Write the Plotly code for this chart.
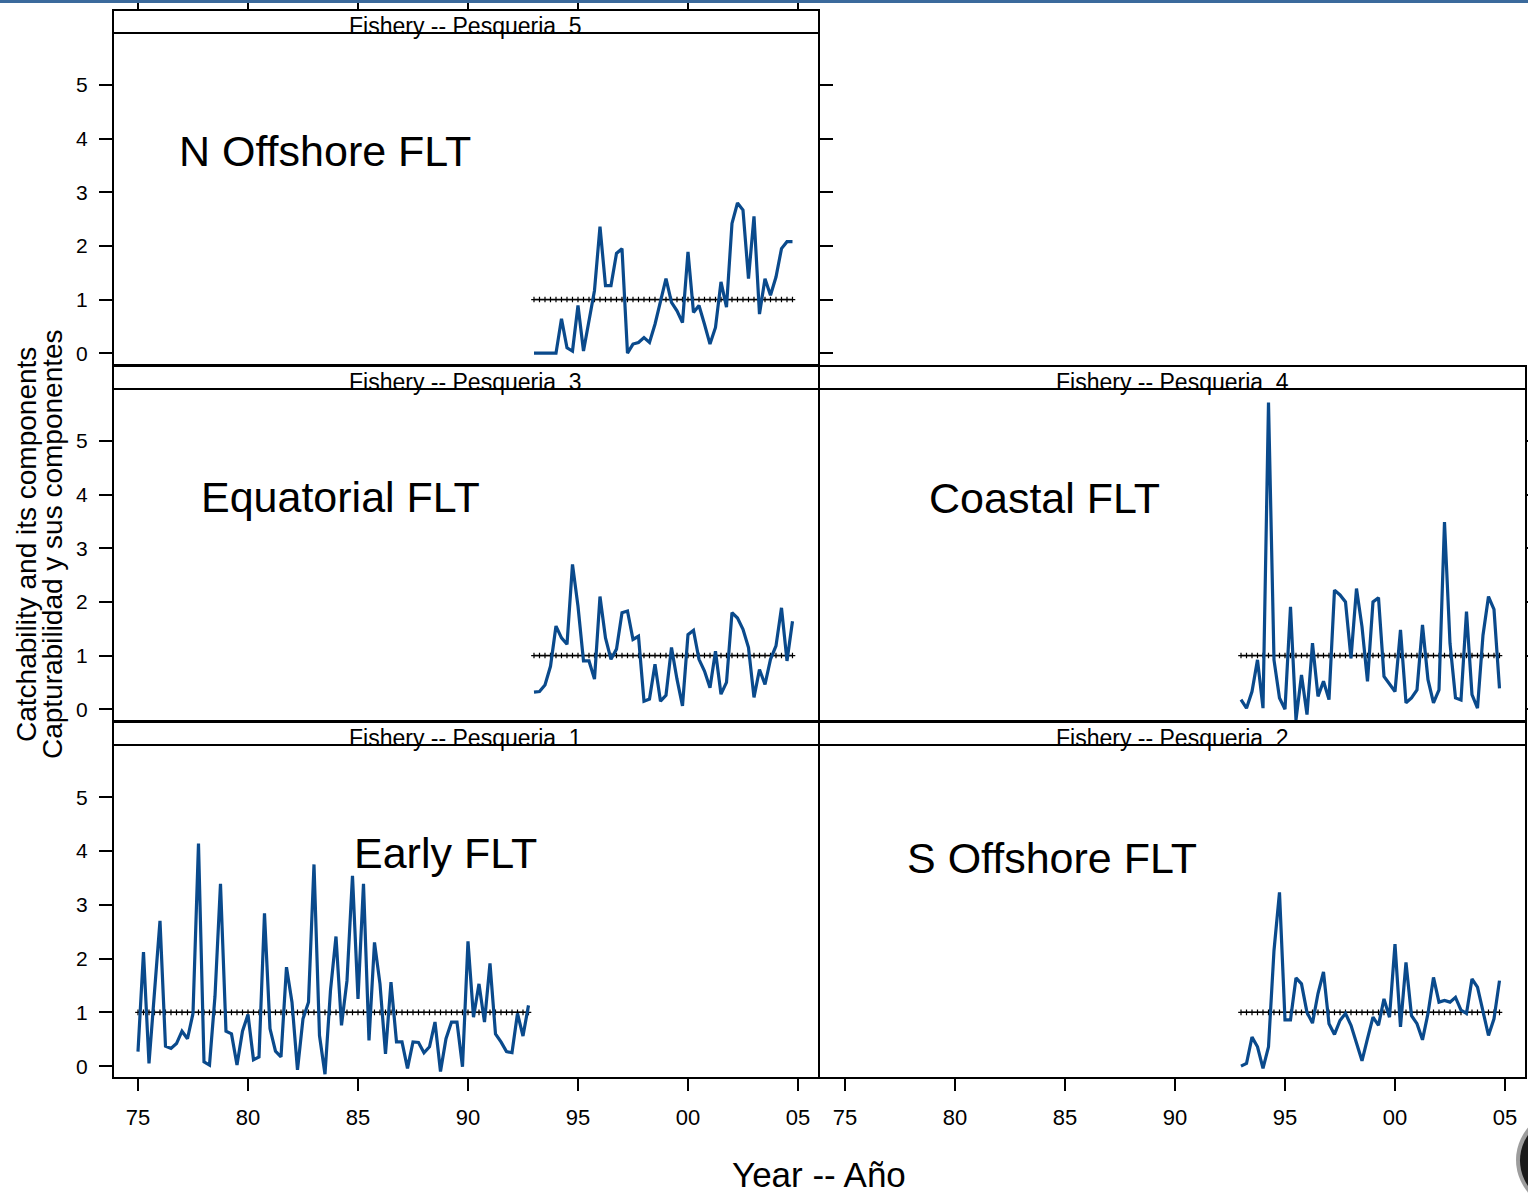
import numpy as np
import plotly.graph_objects as go

# ---- data: quarterly catchability deviates by fishery ----
fishery1 = [0.27, 2.12, 0.05, 1.38, 2.70, 0.37, 0.33, 0.42, 0.65, 0.51,
            0.98, 4.14, 0.08, 0.02, 1.30, 3.39, 0.65, 0.60, 0.02, 0.65,
            0.96, 0.12, 0.17, 2.84, 0.70, 0.28, 0.17, 1.84, 1.19, -0.07,
            0.88, 1.19, 3.75, 0.57, -0.15, 1.41, 2.41, 0.76, 1.59, 3.54,
            1.25, 3.39, 0.48, 2.30, 1.53, 0.23, 1.56, 0.45, 0.45, -0.04,
            0.45, 0.44, 0.25, 0.36, 0.82, -0.10, 0.51, 0.82, 0.82, -0.01,
            2.32, 0.91, 1.53, 0.82, 1.91, 0.60, 0.45, 0.27, 0.25, 0.98,
            0.56, 1.13]
fishery2 = [0.00, 0.05, 0.54, 0.36, -0.04, 0.36, 2.15, 3.23, 0.86, 0.86,
            1.64, 1.53, 1.00, 0.80, 1.35, 1.75, 0.79, 0.59, 0.85, 0.98,
            0.76, 0.42, 0.10, 0.51, 0.91, 0.76, 1.25, 0.91, 2.27, 0.73,
            1.93, 0.94, 0.79, 0.49, 0.98, 1.65, 1.19, 1.22, 1.19, 1.28,
            1.04, 0.98, 1.62, 1.47, 1.04, 0.57, 0.88, 1.59]
fishery3 = [0.32, 0.33, 0.45, 0.80, 1.55, 1.33, 1.21, 2.70, 1.92, 0.90,
            0.90, 0.56, 2.10, 1.33, 0.93, 1.12, 1.80, 1.83, 1.30, 1.36,
            0.15, 0.19, 0.84, 0.15, 0.26, 1.15, 0.56, 0.06, 1.39, 1.47,
            0.93, 0.71, 0.40, 1.08, 0.28, 0.50, 1.80, 1.70, 1.49, 1.15,
            0.22, 0.74, 0.46, 0.93, 1.18, 1.89, 0.90, 1.64]
fishery4 = [0.18, 0.02, 0.33, 0.92, 0.02, 5.72, 0.92, 0.21, 0.00, 1.91,
            -0.20, 0.64, -0.10, 1.23, 0.24, 0.52, 0.18, 2.22, 2.13, 2.00,
            0.95, 2.25, 1.54, 0.52, 2.00, 2.08, 0.61, 0.46, 0.33, 1.48,
            0.12, 0.21, 0.36, 1.57, 0.55, 0.12, 0.36, 3.49, 1.23, 0.21,
            0.17, 1.82, 0.27, 0.02, 1.38, 2.10, 1.86, 0.39]
fishery5 = [0.00, 0.00, 0.00, 0.00, 0.00, 0.64, 0.10, 0.04, 0.89, 0.04,
            0.61, 1.17, 2.36, 1.26, 1.26, 1.86, 1.95, 0.00, 0.17, 0.20,
            0.29, 0.20, 0.54, 0.98, 1.39, 0.95, 0.79, 0.57, 1.89, 0.76,
            0.89, 0.54, 0.17, 0.48, 1.33, 0.86, 2.42, 2.80, 2.67, 1.39,
            2.55, 0.73, 1.39, 1.08, 1.42, 1.95, 2.08, 2.08]

start_early, start_late = 1975.0, 1993.0
tick_years = [1975, 1980, 1985, 1990, 1995, 2000, 2005]
tick_text = ["75", "80", "85", "90", "95", "00", "05"]
y_ticks = [0, 1, 2, 3, 4, 5]

panel_labels = {5: "N Offshore FLT", 3: "Equatorial FLT", 4: "Coastal FLT",
                1: "Early FLT", 2: "S Offshore FLT"}

# ---- page geometry (pixels) ----
W, H = 1528, 1194
FONT = "Liberation Sans, Arial, sans-serif"
LINE_BLUE = "#0a4a8c"


def fx(px):
    return px / W


def fy(py):
    return 1 - py / H


COL = {"L": (113, 819), "R": (819, 1526)}
ROW = {"top": (33, 365), "mid": (389, 721), "bot": (745, 1078)}
STRIP = {"top": (10, 33), "mid": (366, 389), "bot": (722, 745)}
XR = {"L": [1973.864, 2005.955], "R": [1973.818, 2005.955]}
YR = [-0.22, 5.97]

# panel id -> (column, row, x axis name, y axis name, series, first year)
panels = {
    5: ("L", "top", "x", "y", fishery5, start_late),
    3: ("L", "mid", "x2", "y2", fishery3, start_late),
    4: ("R", "mid", "x3", "y3", fishery4, start_late),
    1: ("L", "bot", "x4", "y4", fishery1, start_early),
    2: ("R", "bot", "x5", "y5", fishery2, start_late),
}

fig = go.Figure()
layout = dict(
    width=W, height=H, margin=dict(l=0, r=0, t=0, b=0, autoexpand=False),
    paper_bgcolor="white", plot_bgcolor="white", showlegend=False,
    font=dict(family=FONT, color="black"),
)

shapes = []
annotations = []

for pid, (col, row, xa, ya, vals, t0) in panels.items():
    t = t0 + 0.25 * np.arange(len(vals))
    # reference line at 1 with small point markers
    fig.add_trace(go.Scatter(
        x=t, y=np.ones(len(vals)), xaxis=xa, yaxis=ya, mode="lines+markers",
        line=dict(color="black", width=1.5),
        marker=dict(symbol="cross-thin", size=4,
                    line=dict(color="black", width=1.2)),
        hoverinfo="skip"))
    fig.add_trace(go.Scatter(
        x=t, y=vals, xaxis=xa, yaxis=ya, mode="lines",
        line=dict(color=LINE_BLUE, width=3.2)))

    x0, x1 = COL[col]
    y0, y1 = ROW[row]
    s0, s1 = STRIP[row]
    xkey = "xaxis" + xa[1:]
    ykey = "yaxis" + ya[1:]

    xax = dict(domain=[fx(x0), fx(x1)], range=XR[col], anchor=ya,
               automargin=False, showgrid=False, zeroline=False,
               showline=False, tickvals=tick_years, ticktext=tick_text,
               ticks="", showticklabels=False)
    if row == "bot":
        xax.update(ticks="outside", ticklen=12, tickwidth=1.5,
                   tickcolor="black", showticklabels=True,
                   tickfont=dict(size=22, family=FONT, color="black"),
                   ticklabelstandoff=8)
    if row == "top":
        xax.update(anchor="free", position=fy(10), side="top",
                   ticks="outside", ticklen=10, tickwidth=1.5,
                   tickcolor="black")
    yax = dict(domain=[fy(y1), fy(y0)], range=YR, anchor=xa,
               automargin=False, showgrid=False, zeroline=False,
               showline=False, tickvals=y_ticks, ticks="",
               showticklabels=False)
    if col == "L":
        yax.update(ticks="outside", ticklen=13, tickwidth=1.5,
                   tickcolor="black", showticklabels=True,
                   tickfont=dict(size=21, family=FONT, color="black"),
                   ticklabelstandoff=7)
    elif row == "mid":
        yax.update(side="right", ticks="outside", ticklen=13, tickwidth=1.5,
                   tickcolor="black")
    layout[xkey] = xax
    layout[ykey] = yax

    # panel frame and strip box
    shapes.append(dict(type="rect", xref="paper", yref="paper",
                       x0=fx(x0), x1=fx(x1), y0=fy(y1), y1=fy(y0),
                       line=dict(color="black", width=2), layer="above"))
    shapes.append(dict(type="rect", xref="paper", yref="paper",
                       x0=fx(x0), x1=fx(x1), y0=fy(s1), y1=fy(s0),
                       line=dict(color="black", width=2), layer="above"))
    annotations.append(dict(
        xref="paper", yref="paper", x=fx((x0 + x1) / 2), y=fy(s1 + 8),
        yanchor="bottom", xanchor="center", showarrow=False,
        text=f"Fishery -- Pesqueria\u00a0 {pid}",
        font=dict(size=23, family=FONT, color="black")))

# right-hand ticks on the top panel (overlay axis carrying an empty trace)
fig.add_trace(go.Scatter(x=[None], y=[None], xaxis="x", yaxis="y6",
                         mode="lines", hoverinfo="skip"))
layout["yaxis6"] = dict(overlaying="y", anchor="x", side="right", range=YR,
                        automargin=False, tickvals=y_ticks, ticks="outside",
                        ticklen=13, tickwidth=1.5, tickcolor="black",
                        showticklabels=False, showgrid=False,
                        zeroline=False, showline=False)

# fishery names inside panels (left edge px, vertical centre px)
label_pos = {5: (177, 151), 3: (199, 497), 4: (927, 498),
             1: (352, 853), 2: (905, 858)}
for pid, (lx, ly) in label_pos.items():
    annotations.append(dict(
        xref="paper", yref="paper", x=fx(lx), y=fy(ly),
        xanchor="left", yanchor="middle", showarrow=False,
        text=panel_labels[pid],
        font=dict(size=43, family=FONT, color="black")))

# axis titles
annotations.append(dict(
    xref="paper", yref="paper", x=fx(26), y=fy(545), textangle=-90,
    xanchor="center", yanchor="middle", showarrow=False,
    text="Catchability and its components",
    font=dict(size=28, family=FONT, color="black")))
annotations.append(dict(
    xref="paper", yref="paper", x=fx(52), y=fy(544), textangle=-90,
    xanchor="center", yanchor="middle", showarrow=False,
    text="Capturabilidad y sus componentes",
    font=dict(size=28, family=FONT, color="black")))
annotations.append(dict(
    xref="paper", yref="paper", x=fx(819), y=fy(1195), borderpad=0,
    xanchor="center", yanchor="bottom", showarrow=False,
    text="Year -- Año",
    font=dict(size=35, family=FONT, color="black")))

# thin blue rule along the top edge
shapes.append(dict(type="rect", xref="paper", yref="paper",
                   x0=0, x1=1, y0=fy(3), y1=1,
                   line=dict(width=0), fillcolor="#3b6a9c", layer="above"))
# dark rounded object partly visible in the lower-right corner
shapes.append(dict(type="circle", xref="paper", yref="paper",
                   x0=fx(1516), x1=fx(1640), y0=fy(1215), y1=fy(1105),
                   line=dict(width=0), fillcolor="rgba(60,60,60,0.5)",
                   layer="above"))
shapes.append(dict(type="circle", xref="paper", yref="paper",
                   x0=fx(1520), x1=fx(1636), y0=fy(1211), y1=fy(1110),
                   line=dict(width=0), fillcolor="#1a1a1a", layer="above"))

layout["shapes"] = shapes
layout["annotations"] = annotations
fig.update_layout(**layout)

fig.write_html("out.html")
